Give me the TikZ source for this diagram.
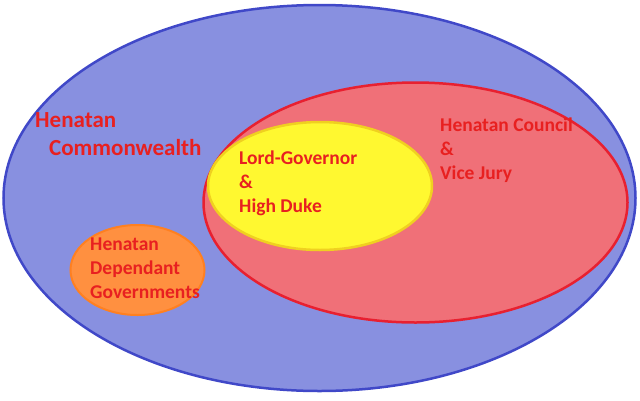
\documentclass[tikz,border=0pt]{standalone}
\usepackage{fontspec}
\setmainfont{Carlito}
\definecolor{bluef}{HTML}{8890E0}\definecolor{blued}{HTML}{4048C8}
\definecolor{redf}{HTML}{F07078}\definecolor{redd}{HTML}{E82030}
\definecolor{yelf}{HTML}{FFF830}\definecolor{yeld}{HTML}{F0D020}
\definecolor{oraf}{HTML}{FF9040}\definecolor{orad}{HTML}{FF8020}
\definecolor{txt}{HTML}{E82020}
\begin{document}
\begin{tikzpicture}[x=1pt,y=-1pt,
 lab/.style={text=txt,font=\bfseries\fontsize{19.5}{24}\selectfont,align=left,anchor=north west,inner sep=0pt}]
\useasboundingbox (0,0) rectangle (640,400);
\draw[blued,fill=bluef,line width=2.5pt] (319.5,198) ellipse [x radius=316,y radius=193];
\draw[redd,fill=redf,line width=2.5pt] (415.5,202.5) ellipse [x radius=212,y radius=120];
\draw[yeld,fill=yelf,line width=2.5pt] (320,186) ellipse [x radius=112,y radius=64];
\draw[orad,fill=oraf,line width=2pt] (137.5,270) ellipse [x radius=67,y radius=45];
\node[lab,font=\bfseries\fontsize{23}{28}\selectfont] (hc) at (35,112) {Henatan\\\hspace{14pt}Commonwealth};
\node[lab] (cv) at (440,118) {Henatan Council\\\&\\Vice Jury};
\node[lab] (lg) at (239,151) {Lord-Governor\\\&\\High Duke};
\node[lab] (dg) at (90,238) {Henatan\\Dependant\\Governments};
\end{tikzpicture}
\end{document}
